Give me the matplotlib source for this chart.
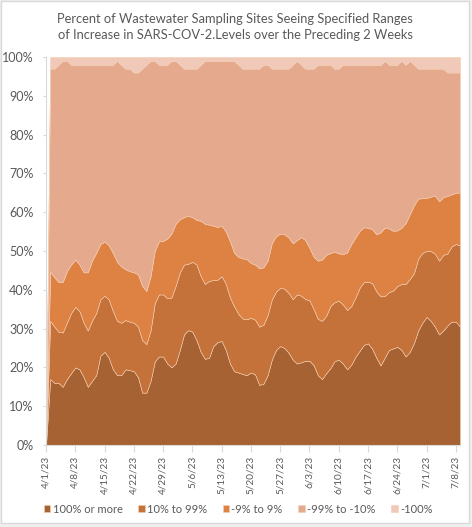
import matplotlib
matplotlib.use("Agg")
import matplotlib.pyplot as plt
from matplotlib.patches import Rectangle
import pandas as pd

plt.rcParams["font.family"] = ["Lato", "DejaVu Sans"]

# daily shares (%) of sampling sites, 4/1/23 .. 7/9/23
dates = pd.date_range("2023-04-01", "2023-07-09", freq="D")

inc_100_plus = [0, 17, 16, 16, 15, 17, 18.5, 20, 19.5, 17.5, 15, 16.5, 18, 23, 24, 22.5, 19.5, 18, 18, 19.5,
                19.3, 19, 17.5, 13.5, 13.5, 16.5, 21.5, 22.8, 22.8, 21, 20, 21, 24.5, 28.5, 29.6, 29.2, 27, 24, 22.2, 22.5,
                25.5, 26.5, 26.8, 24.5, 21, 19, 18.7, 18.3, 18, 18.7, 18.2, 15.5, 15.8, 18, 22, 24.5, 25.5, 25, 23.8, 22,
                21, 21.3, 21.7, 21.7, 20.6, 18, 17, 18.5, 19.8, 21.6, 22, 21, 19.5, 20.7, 22.7, 24.3, 25.8, 26.2, 24.8, 22.5,
                20.5, 22.5, 24.5, 24.9, 25.3, 24.5, 22.8, 24, 26.3, 29.5, 31.5, 33, 32, 30.5, 28.5, 29.5, 30.8, 31.8, 31.8, 30.5]
inc_10_99 = [0, 15, 14.5, 13.2, 14, 14.5, 15.5, 15.6, 15, 14, 14.5, 15.5, 16, 14.5, 14.5, 15, 15, 14, 13.5, 12.7,
             12.5, 12.5, 13, 13.5, 12.5, 13, 15, 16, 16, 16.8, 18, 20, 20, 18, 17.1, 18, 19.5, 19.5, 19.3, 19.8,
             17, 16.1, 16.7, 17, 17, 16.7, 15.1, 14.3, 14.4, 14.1, 14.1, 15, 15.2, 15.5, 15.5, 15, 15, 15.3, 15.4, 15.6,
             17.8, 17.2, 15.9, 15.6, 14.4, 14.5, 15, 14.8, 16, 15.2, 15.2, 15.2, 15.3, 15.1, 15.3, 16.2, 16.2, 15.9, 16.9, 17.1,
             17.8, 15.9, 14.9, 14.9, 15.7, 17, 18.7, 18.8, 18, 18.5, 18, 17, 18, 18.8, 19, 19.5, 18.6, 19.4, 20, 20.9]
flat_9 = [0, 12.7, 12.7, 12.8, 13, 13.3, 12.5, 12.2, 12, 13, 15, 15.5, 15.5, 14.3, 13.9, 14, 15, 15.2, 14.5, 13.1,
          13, 13, 13.5, 14, 13.7, 14, 13.5, 13.7, 13.8, 15.4, 16.5, 16, 13.7, 12.2, 12.4, 11.5, 11.5, 14.3, 15.5, 14.5,
          14, 13.6, 13, 13.5, 14.5, 13.8, 14.7, 15.5, 15.5, 14.1, 14.2, 15, 14.8, 14, 14.5, 14.3, 14, 14, 14.3, 14.4,
          14, 15.1, 15.2, 13.5, 13.5, 15, 15.8, 15.7, 13.7, 13, 12.2, 13, 14.8, 16, 15.5, 14.7, 14.1, 13.9, 13.9, 14.7,
          16.5, 17.6, 16.4, 15.4, 14.3, 14.5, 15.7, 16.7, 17.5, 15.5, 14.1, 13.7, 14, 15, 15.3, 14.9, 14.8, 13.4, 13.2, 13.7]
dec_99_10 = [0, 52.3, 53.8, 56, 57, 54.2, 51.5, 50.2, 51.5, 53.5, 53.5, 50.5, 48.5, 46.2, 45.6, 46.5, 48.5, 51.8, 52, 51.7,
             52.2, 51.5, 52, 56, 58.3, 55.5, 49, 45.5, 45.4, 44.8, 44.5, 42, 39.8, 38.3, 37.9, 38.3, 39, 40.2, 42, 42.2,
             42.5, 42.8, 42.5, 44, 46.5, 49.5, 49.5, 48.9, 49.1, 50.1, 50.5, 51.5, 52.2, 50.5, 45, 43.2, 42.5, 42.7, 43.5, 46,
             46.2, 44.4, 44.2, 46.2, 48.5, 50.5, 50.2, 49, 48.5, 47.2, 47.6, 48.8, 48.4, 46.2, 44.5, 42.8, 41.9, 42, 42.4, 43.7,
             43.2, 43, 42.2, 42.8, 42.7, 43, 40.8, 39.5, 36.2, 33.5, 33.4, 33.3, 33, 32.7, 34.2, 33.1, 31.8, 31.4, 31, 30.9]
dec_100 = [0, 3, 3, 2, 1, 1, 2, 2, 2, 2, 2, 2, 2, 2, 2, 2, 2, 1, 2, 3,
           3, 4, 4, 3, 2, 1, 1, 2, 2, 2, 1, 1, 2, 3, 3, 3, 3, 2, 1, 1,
           1, 1, 1, 1, 1, 1, 2, 3, 3, 3, 3, 3, 2, 2, 3, 3, 3, 3, 3, 2,
           1, 2, 3, 3, 3, 2, 2, 2, 2, 3, 3, 2, 2, 2, 2, 2, 2, 2, 2, 2,
           2, 1, 2, 2, 2, 1, 2, 1, 2, 3, 3, 3, 3, 3, 3, 3, 4, 4, 4, 4]

labels = ["100% or more", "10% to 99%", "-9% to 9%", "-99% to -10%", "-100%"]
colors = ["#A66232", "#C4723A", "#DE8244", "#E5AA8E", "#F0C9B9"]

fig = plt.figure(figsize=(4.72, 5.27), dpi=100, facecolor="#EFEFEF")
# white chart area with a thin grey border, behind everything
fig.patches.append(Rectangle((0.002, 0.008), 0.992, 0.99, transform=fig.transFigure,
                             facecolor="white", edgecolor="#D9D9D9", lw=1, zorder=-10))

ax = fig.add_axes([46 / 472, 1 - 445 / 527, 414 / 472, 388 / 527])
ax.stackplot(dates, inc_100_plus, inc_10_99, flat_9, dec_99_10, dec_100,
             labels=labels, colors=colors, edgecolor="#F3CDB0", linewidth=0.4)

ax.set_xlim(dates[0], dates[-1])
ax.set_ylim(0, 100)
ax.set_yticks(range(0, 101, 10))
ax.set_yticklabels([f"{v}%" for v in range(0, 101, 10)])

ticks = pd.date_range("2023-04-01", "2023-07-08", freq="7D")
ax.set_xticks(ticks)
ax.set_xticklabels([f"{t.month}/{t.day}/{t.year % 100}" for t in ticks], rotation=90)

for s in ["top", "right"]:
    ax.spines[s].set_visible(False)
ax.spines["left"].set_color("#D9D9D9")
ax.spines["bottom"].set_color("#D9D9D9")
ax.tick_params(axis="y", length=2, color="#D9D9D9", labelsize=9, labelcolor="#595959", pad=7)
ax.tick_params(axis="x", length=5, color="#D9D9D9", labelsize=7.2, labelcolor="#595959", pad=3)

fig.text(0.498, 1 - 27 / 527,
         "Percent of Wastewater Sampling Sites Seeing Specified Ranges\n"
         "of Increase in SARS-COV-2.Levels over the Preceding 2 Weeks",
         ha="center", va="center", fontsize=9.3, color="#595959", linespacing=1.4)

ax.legend(loc="center", bbox_to_anchor=(0.464, -0.165), ncol=5, frameon=False,
          fontsize=8, labelcolor="#595959", handlelength=0.6, handleheight=0.6,
          handletextpad=0.2, columnspacing=1.4)

fig.savefig("out.png", dpi=100, facecolor=fig.get_facecolor())
